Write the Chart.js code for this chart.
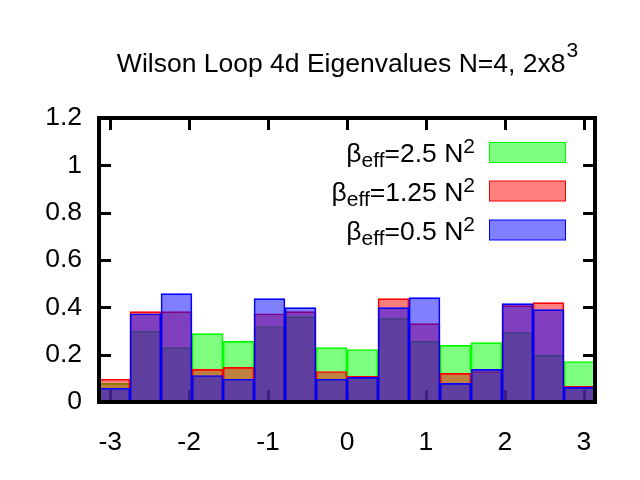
<!DOCTYPE html>
<html>
<head>
<meta charset="utf-8">
<script src="https://cdn.jsdelivr.net/npm/chart.js@4.4.0/dist/chart.umd.min.js"></script>
<style>
  html, body { margin: 0; padding: 0; background: #fff; }
</style>
</head>
<body>
<canvas id="chart" width="640" height="480"></canvas>
<script>
// bin centres (16 bins over -pi..pi)
const binCenters = [-2.945, -2.553, -2.160, -1.767, -1.374, -0.982, -0.589, -0.196,
                    0.196, 0.589, 0.982, 1.374, 1.767, 2.160, 2.553, 2.945];

// eigenvalue densities
const beta25 = [0.079, 0.299, 0.230, 0.289, 0.256, 0.319, 0.361, 0.230,
                0.222, 0.352, 0.256, 0.239, 0.251, 0.293, 0.197, 0.171];
const beta125 = [0.096, 0.382, 0.382, 0.138, 0.146, 0.373, 0.382, 0.129,
                 0.108, 0.437, 0.331, 0.121, 0.129, 0.407, 0.420, 0.066];
const beta05 = [0.058, 0.373, 0.458, 0.112, 0.096, 0.437, 0.399, 0.096,
                0.104, 0.399, 0.441, 0.079, 0.138, 0.416, 0.390, 0.062];

const legendValues = ['2.5', '1.25', '0.5'];
const xTicks = [-3, -2, -1, 0, 1, 2, 3];
const yTicks = [0, 0.2, 0.4, 0.6, 0.8, 1, 1.2];

const FONT = '"Liberation Sans", Arial, sans-serif';
const FS = 26.5;   // main text size
const FSS = 21;    // sub/superscript size

function toPoints(vals) {
    return binCenters.map((x, i) => ({ x: x, y: vals[i] }));
}

// frame, inward ticks, title and legend (gnuplot style)
const decorPlugin = {
    id: 'decor',
    beforeDatasetsDraw(chart) {
        const ctx = chart.ctx;
        const a = chart.chartArea;
        const xs = chart.scales.x, ys = chart.scales.y;
        ctx.save();
        ctx.strokeStyle = '#000';
        ctx.lineWidth = 3;
        ctx.beginPath();
        xTicks.forEach(v => {
            const px = Math.round(xs.getPixelForValue(v)) + 0.5;
            ctx.moveTo(px, a.bottom); ctx.lineTo(px, a.bottom - 12);
            ctx.moveTo(px, a.top); ctx.lineTo(px, a.top + 12);
        });
        yTicks.forEach(v => {
            const py = Math.round(ys.getPixelForValue(v)) + 0.5;
            ctx.moveTo(a.left, py); ctx.lineTo(a.left + 12, py);
            ctx.moveTo(a.right, py); ctx.lineTo(a.right - 12, py);
        });
        ctx.stroke();
        ctx.restore();
    },
    afterDatasetsDraw(chart) {
        const ctx = chart.ctx;
        const a = chart.chartArea;
        ctx.save();
        ctx.strokeStyle = '#000';
        ctx.lineWidth = 4;
        ctx.strokeRect(a.left, a.top, a.right - a.left, a.bottom - a.top);

        ctx.fillStyle = '#000';
        ctx.textBaseline = 'alphabetic';
        ctx.textAlign = 'left';

        // title
        const tMain = 'Wilson Loop 4d Eigenvalues N=4, 2x8';
        ctx.font = FS + 'px ' + FONT;
        const wMain = ctx.measureText(tMain).width;
        ctx.font = FSS + 'px ' + FONT;
        const wSup = ctx.measureText('3').width;
        let tx = (a.left + a.right) / 2 - (wMain + wSup) / 2;
        ctx.font = FS + 'px ' + FONT;
        ctx.fillText(tMain, tx, 72);
        ctx.font = FSS + 'px ' + FONT;
        ctx.fillText('3', tx + wMain + 1, 57);

        // legend
        const colors = [['rgba(0,255,0,0.5)', '#00ff00'],
                        ['rgba(255,0,0,0.5)', '#ff0000'],
                        ['rgba(0,0,255,0.5)', '#0000ff']];
        const rowY = [152.5, 191, 230];
        legendValues.forEach((val, i) => {
            const base = rowY[i] + 9.5;
            const parts = [
                { t: '\u03B2', f: FS, dy: 0 },
                { t: 'eff', f: FSS, dy: 5 },
                { t: '=' + val + ' N', f: FS, dy: 0 },
                { t: '2', f: FSS, dy: -9 }
            ];
            let total = 0;
            parts.forEach(p => { ctx.font = p.f + 'px ' + FONT; p.w = ctx.measureText(p.t).width; total += p.w; });
            let x = 475 - total;
            parts.forEach(p => {
                ctx.font = p.f + 'px ' + FONT;
                ctx.fillText(p.t, x, base + p.dy);
                x += p.w;
            });
            ctx.fillStyle = colors[i][0];
            ctx.fillRect(489.5, rowY[i] - 10, 76, 20);
            ctx.strokeStyle = colors[i][1];
            ctx.lineWidth = 1;
            ctx.strokeRect(489.5, rowY[i] - 10, 76, 20);
            ctx.fillStyle = '#000';
        });
        ctx.restore();
    }
};

const barStyle = { borderWidth: 1, borderSkipped: false, barPercentage: 1, categoryPercentage: 1, grouped: false };

new Chart(document.getElementById('chart'), {
    type: 'bar',
    data: {
        datasets: [
            Object.assign({ label: 'beta_eff=2.5 N^2', data: toPoints(beta25), order: 3,
                backgroundColor: 'rgba(0,255,0,0.5)', borderColor: '#00ff00' }, barStyle),
            Object.assign({ label: 'beta_eff=1.25 N^2', data: toPoints(beta125), order: 2,
                backgroundColor: 'rgba(255,0,0,0.5)', borderColor: '#ff0000' }, barStyle),
            Object.assign({ label: 'beta_eff=0.5 N^2', data: toPoints(beta05), order: 1,
                backgroundColor: 'rgba(0,0,255,0.5)', borderColor: '#0000ff' }, barStyle)
        ]
    },
    options: {
        responsive: false,
        animation: false,
        devicePixelRatio: 1,
        layout: { padding: { top: 118, right: 45, left: 0, bottom: 0 } },
        plugins: { legend: { display: false }, tooltip: { enabled: false } },
        scales: {
            x: {
                type: 'linear',
                min: -Math.PI,
                max: Math.PI,
                offset: false,
                grid: { display: false, drawTicks: false },
                border: { display: false },
                ticks: { color: '#000', font: { family: FONT, size: FS }, padding: 25, maxRotation: 0 },
                afterBuildTicks: s => { s.ticks = xTicks.map(v => ({ value: v })); },
                afterFit: s => { s.height = 78; }
            },
            y: {
                min: 0,
                max: 1.2,
                grid: { display: false, drawTicks: false },
                border: { display: false },
                ticks: { color: '#000', font: { family: FONT, size: FS }, padding: 17,
                         callback: v => String(Math.round(v * 10) / 10) },
                afterBuildTicks: s => { s.ticks = yTicks.map(v => ({ value: v })); },
                afterFit: s => { s.width = 99; }
            }
        }
    },
    plugins: [decorPlugin]
});
</script>
</body>
</html>
